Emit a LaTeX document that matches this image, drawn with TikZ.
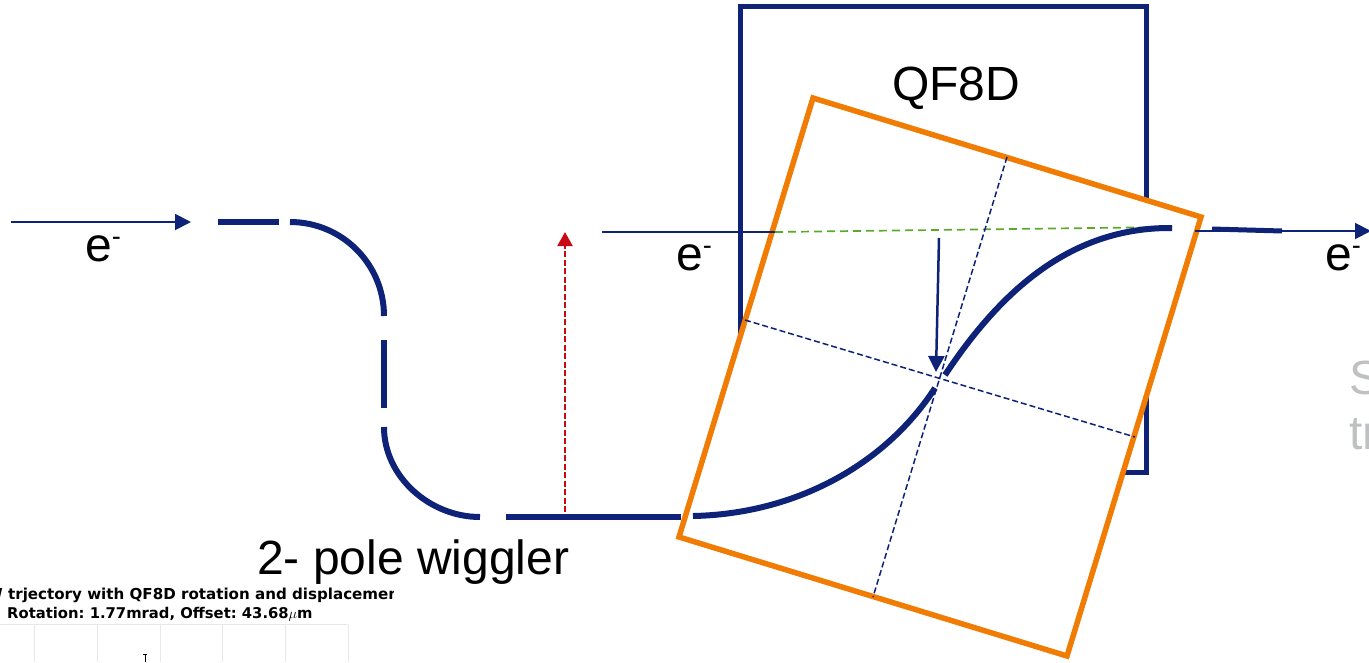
\documentclass[tikz,border=0pt]{standalone}
\usepackage{fontspec}
\setmainfont{Liberation Sans}
\newfontfamily\plotfont{DejaVu Sans}
\usetikzlibrary{arrows.meta}
\definecolor{navy}{RGB}{14,35,120}
\definecolor{orng}{RGB}{240,124,4}
\definecolor{grn}{RGB}{90,170,40}
\definecolor{redd}{RGB}{200,10,20}
\definecolor{gry}{RGB}{190,192,194}
\definecolor{gridc}{RGB}{232,232,232}
\tikzset{
  thickbeam/.style={draw=navy,line width=6pt},
  thinbeam/.style={draw=navy,line width=1.9pt},
  axisline/.style={draw=navy,line width=1.5pt,dash pattern=on 6pt off 3pt},
  arrowtip/.style={-{Triangle[length=16pt,width=16pt]}},
  label/.style={inner sep=0pt,font=\fontsize{48}{52}\selectfont,text=black},
  plottext/.style={inner sep=0pt,anchor=base west,font=\fontsize{15.1}{17}\selectfont\plotfont\bfseries\frenchspacing,text=black},
  gridline/.style={draw=gridc,line width=1pt}
}
\begin{document}
\begin{tikzpicture}[x=1pt,y=-1pt]
\useasboundingbox (0,0) rectangle (1369,662);
% coordinates
\coordinate (inA) at (11,222);
\coordinate (inB) at (191,222);
\coordinate (s1a) at (218,222);
\coordinate (s1b) at (279,222);
\coordinate (c1a) at (290,222);
\coordinate (c1b) at (384,316);
\coordinate (s2a) at (384,340);
\coordinate (s2b) at (384,408);
\coordinate (c2a) at (384,427);
\coordinate (c2b) at (480,517);
\coordinate (s3a) at (506,517);
\coordinate (s3b) at (681,517);
\coordinate (redA) at (565,512);
\coordinate (redB) at (565,232);
\coordinate (midA) at (602,232);
\coordinate (midB) at (775,232);
\coordinate (grnB) at (1172,227);
\coordinate (outA) at (1195,231);
\coordinate (outB) at (1371,231);
\coordinate (outThickA) at (1212,229);
\coordinate (outThickB) at (1282,231);
\coordinate (boxBL) at (740,472);
\coordinate (boxTL) at (740,6);
\coordinate (boxTR) at (1146,6);
\coordinate (boxBR) at (1146,472);
\coordinate (o1) at (813,98);
\coordinate (o2) at (1201,217);
\coordinate (o3) at (1067,656);
\coordinate (o4) at (679,537);
\coordinate (axAa) at (745,320);
\coordinate (axAb) at (1135,437);
\coordinate (axBa) at (1007,157);
\coordinate (axBb) at (873,597);
\coordinate (shiftA) at (939,238);
\coordinate (shiftB) at (936,372);
\coordinate (sA) at (693,516);
\coordinate (sB) at (935,388);
\coordinate (sC) at (945,375);
\coordinate (sD) at (1172,228);
% plot fragment
\begin{scope}
\clip (0,580) rectangle (393,662);
\node[plottext] (title1) at (-14,599) {W trjectory with QF8D rotation and displacement};
\node[plottext,font=\fontsize{14.8}{17}\selectfont\plotfont\bfseries\frenchspacing] (title2) at (7,618) {Rotation: 1.77mrad, Offset: 43.68$\mu$m};
\draw[gridline] (0,624.5) -- (348,624.5);
\foreach \gx in {34,97,160,222,285,348} \draw[gridline] (\gx,624.5) -- (\gx,662);
\draw[black,line width=1pt] (145,654) -- (145,662);
\draw[black,line width=1pt] (143,654) -- (147,654);
\end{scope}
% background grey text
\begin{scope}
\clip (1300,340) rectangle (1369,470);
\node[label,text=gry,anchor=base west] (greyS) at (1349,394) {S};
\node[label,text=gry,anchor=base west] (greyT) at (1349,449) {tr};
\end{scope}
% quadrupole box
\draw[draw=navy,line width=5pt,miter limit=10] (boxBL) -- (boxTL) -- (boxTR) -- (boxBR) -- (1120,472);
% rotated magnet
\draw[draw=orng,line width=5.5pt,fill=white,line join=miter] (o1) -- (o2) -- (o3) -- (o4) -- cycle;
% incoming
\draw[thinbeam,arrowtip] (inA) -- (inB);
\draw[thickbeam] (s1a) -- (s1b);
\draw[thickbeam] (c1a) .. controls (342,222) and (384,264) .. (c1b);
\draw[thickbeam] (s2a) -- (s2b);
\draw[thickbeam] (c2a) .. controls (384,477) and (430,517) .. (c2b);
\draw[thickbeam] (s3a) -- (s3b);
\draw[redd,line width=2pt,dash pattern=on 6pt off 2.5pt,-{Triangle[length=14pt,width=15pt]}] (redA) -- (redB);
\draw[thinbeam] (midA) -- (midB);
\draw[grn,line width=1.7pt,dash pattern=on 8pt off 5pt] (midB) -- (grnB);
\draw[thinbeam,arrowtip] (outA) -- (outB);
\draw[draw=navy,line width=5pt] (outThickA) -- (outThickB);
% axes
\draw[axisline] (axAa) -- (axAb);
\draw[axisline] (axBa) -- (axBb);
% S trajectory
\draw[thickbeam] (sA) .. controls (795,514) and (885,465) .. (sB);
\draw[thickbeam] (sC) .. controls (1000,292) and (1070,227) .. (sD);
\draw[draw=navy,line width=2.5pt,arrowtip] (shiftA) -- (shiftB);
% labels
\node[label,anchor=base] (qf) at (956,100) {QF8D};
\node[label,anchor=base west] (wig) at (257,574) {2- pole wiggler};
\node[label,anchor=base west] (e1) at (85,261) {e\raisebox{16pt}{\fontsize{27}{27}\selectfont -}};
\node[label,anchor=base west] (e2) at (676,270) {e\raisebox{16pt}{\fontsize{27}{27}\selectfont -}};
\node[label,anchor=base west] (e3) at (1325,270) {e\raisebox{16pt}{\fontsize{27}{27}\selectfont -}};
\end{tikzpicture}
\end{document}
